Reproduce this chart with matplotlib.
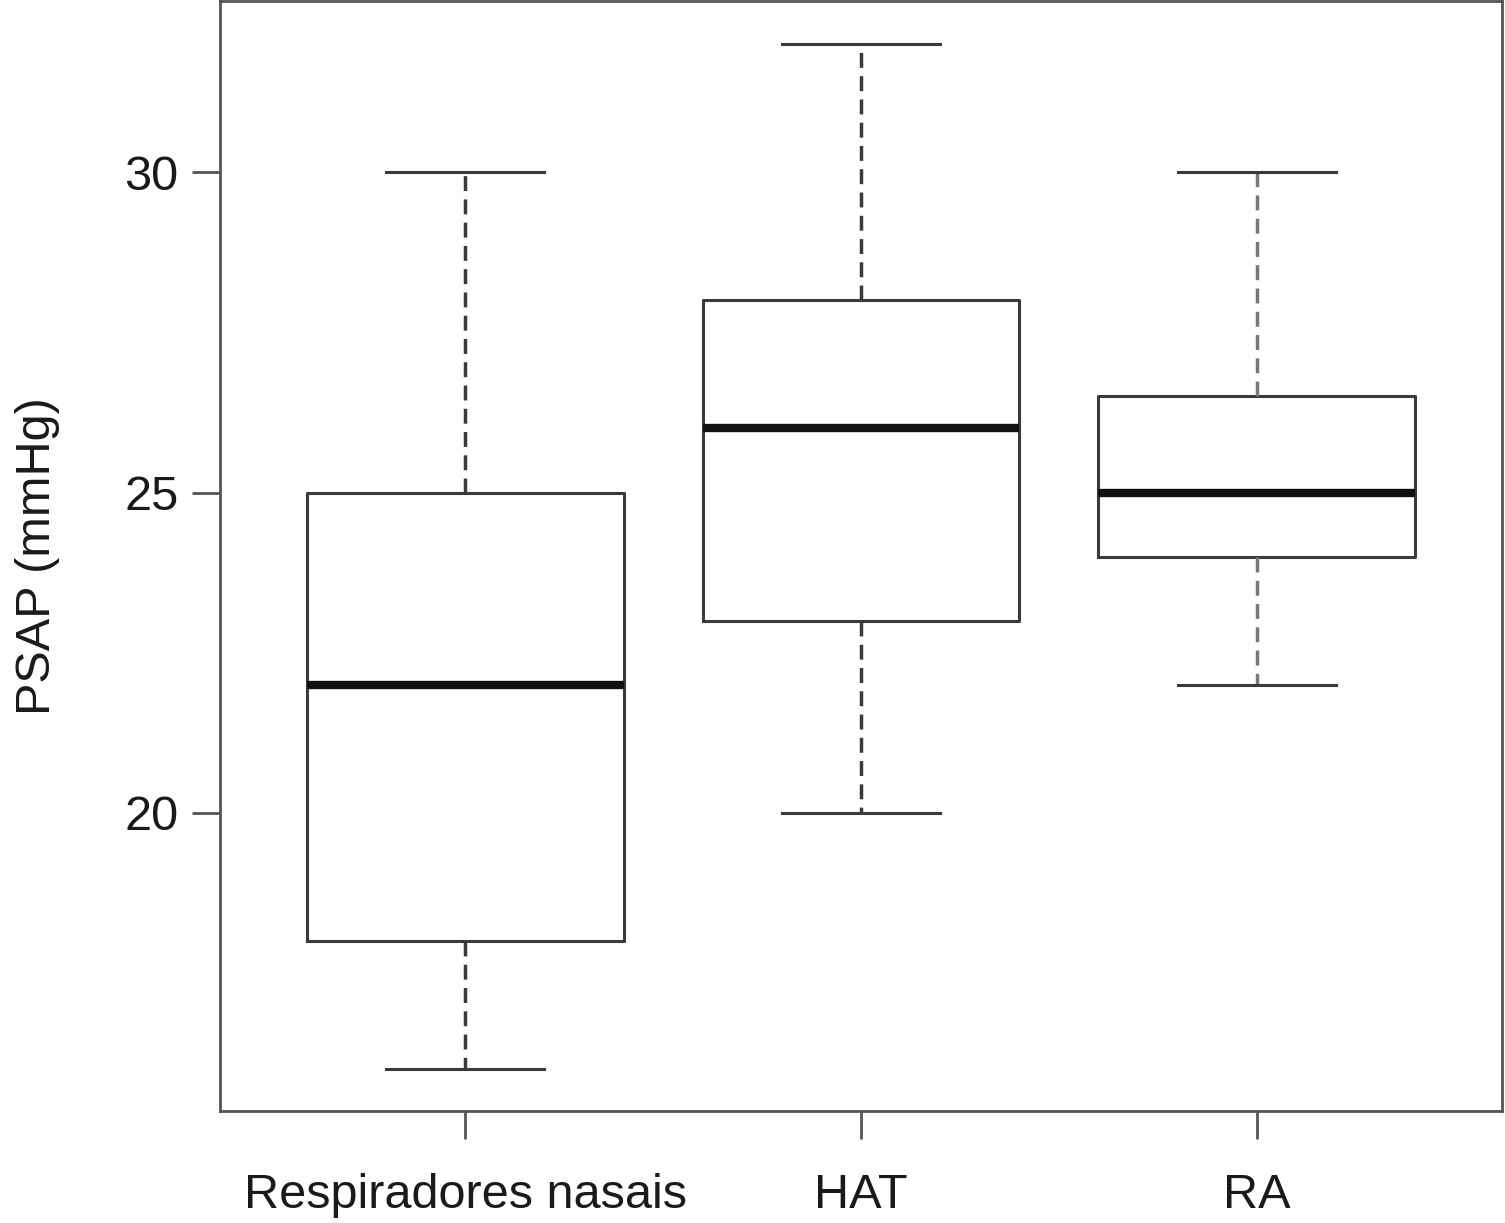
import matplotlib
matplotlib.use("Agg")
import matplotlib.pyplot as plt

# values (mmHg)
groups = ["Respiradores nasais", "HAT", "RA"]
whislo = [16, 20, 22]
q1 = [18, 23, 24]
med = [22, 26, 25]
q3 = [25, 28, 26.5]
whishi = [30, 32, 30]
yticks = [20, 25, 30]

plt.rcParams['font.family'] = ['Liberation Sans', 'DejaVu Sans']

fig = plt.figure(figsize=(15.05, 12.23), dpi=100)
ax = fig.add_axes([220/1505, 112/1223, 1282/1505, 1110/1223])

stats = []
for i in range(len(groups)):
    stats.append({"label": groups[i], "whislo": whislo[i], "q1": q1[i],
                  "med": med[i], "q3": q3[i], "whishi": whishi[i], "fliers": []})

bp = ax.bxp(stats, positions=[1, 2, 3], widths=0.8, showfliers=False,
            boxprops=dict(color="#3a3a3a", linewidth=2.2),
            medianprops=dict(color="#111111", linewidth=6, solid_capstyle="butt"),
            whiskerprops=dict(color="#3a3a3a", linewidth=2.5, linestyle=(0, (4.3, 2.4))),
            capprops=dict(color="#3a3a3a", linewidth=2.2),
            capwidths=0.4)
# RA whiskers look a bit lighter in the original
for w in bp["whiskers"][4:]:
    w.set_color("#777777")

ax.set_xlim(0.38, 3.62)
ax.set_ylim(15.35, 32.67)
ax.set_yticks(yticks)
ax.set_yticklabels([str(t) for t in yticks])
ax.set_xticks([1, 2, 3])
ax.set_xticklabels(groups)

for s in ax.spines.values():
    s.set_color("#555555")
    s.set_linewidth(2)

ax.tick_params(axis="both", direction="out", length=20, width=2,
               color="#555555", labelsize=35, labelcolor="#1a1a1a")
ax.tick_params(axis="x", pad=25)
ax.tick_params(axis="y", pad=10)

ax.set_ylabel("PSAP (mmHg)", fontsize=35, color="#1a1a1a", labelpad=46)

fig.savefig("out.png", dpi=100, facecolor="white")
